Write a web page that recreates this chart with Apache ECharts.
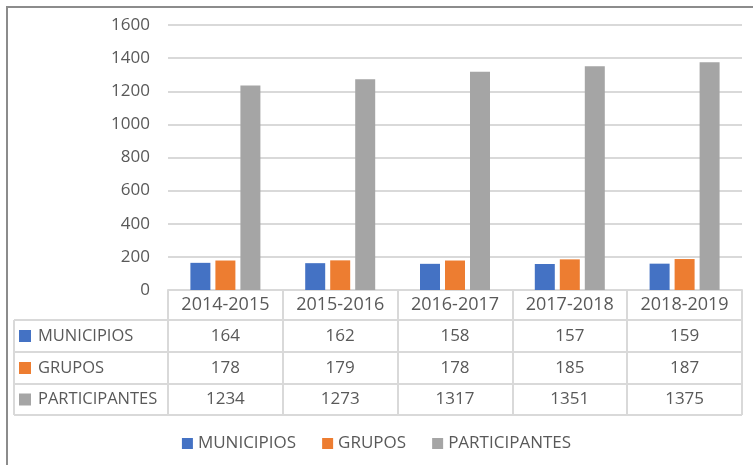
<!DOCTYPE html>
<html><head><meta charset="utf-8">
<script src="https://cdn.jsdelivr.net/npm/echarts@6/dist/echarts.min.js"></script>
<style>html,body{margin:0;padding:0;background:#fff}#c{width:753px;height:465px}</style>
</head><body><div id="c"></div>
<script>
const categories = ['2014-2015','2015-2016','2016-2017','2017-2018','2018-2019'];
const municipios = [164,162,158,157,159];
const grupos = [178,179,178,185,187];
const participantes = [1234,1273,1317,1351,1375];
const seriesNames = ['MUNICIPIOS','GRUPOS','PARTICIPANTES'];
const colors = ['#4472c4','#ed7d31','#a5a5a5'];
const yTicks = [0,200,400,600,800,1000,1200,1400,1600];

const FONT = '"Open Sans", sans-serif';
const TXT = '#595959';
const LINE = '#d9d9d9';
const gridL = 168, gridR = 11, gridT = 25, gridB = 175; // plot 168..742, 25..290
const tableLeft = 14, rowLines = [320, 352, 384, 415];
const rowCenters = [336, 368, 399.5];
const seriesData = [municipios, grupos, participantes];

const chart = echarts.init(document.getElementById('c'));
const graphics = [
  {type:'rect', shape:{x:7,y:7,width:800,height:500}, style:{fill:'none', stroke:'#8c8c8c', lineWidth:2}, z:1}
];
rowLines.forEach(y => graphics.push({type:'line', shape:{x1:tableLeft,y1:y,x2:753-gridR,y2:y}, style:{stroke:LINE,lineWidth:2}, z:5}));
graphics.push({type:'line', shape:{x1:tableLeft,y1:rowLines[0],x2:tableLeft,y2:rowLines[3]}, style:{stroke:LINE,lineWidth:2}, z:5});
seriesNames.forEach((n,i) => {
  graphics.push({type:'rect', shape:{x:19,y:rowCenters[i]-6,width:12,height:12}, style:{fill:colors[i]}, z:6});
  graphics.push({type:'text', x:38, y:rowCenters[i], style:{text:n, font:'16.5px '+FONT, fill:TXT, textVerticalAlign:'middle', textAlign:'left'}, z:6});
});

chart.setOption({
  animation:false,
  backgroundColor:'#ffffff',
  color: colors,
  grid:{left:gridL, right:gridR, top:gridT, bottom:gridB},
  legend:{
    data: seriesNames, bottom: 8, left:'center', icon:'rect', itemWidth:11, itemHeight:11, itemGap:26,
    textStyle:{fontFamily:FONT, fontSize:17, color:TXT}
  },
  xAxis:{
    type:'category', data: categories,
    axisLine:{lineStyle:{color:LINE, width:2}},
    axisTick:{show:true, length:125, lineStyle:{color:LINE, width:2}},
    axisLabel:{
      margin:0, interval:0,
      formatter:(v, idx) => '{h|' + v + '}\n{a|' + municipios[idx] + '}\n{a|' + grupos[idx] + '}\n{c|' + participantes[idx] + '}',
      rich:{
        h:{fontFamily:FONT, fontSize:18, color:TXT, lineHeight:30, height:30},
        a:{fontFamily:FONT, fontSize:17, color:TXT, lineHeight:32, height:32},
        c:{fontFamily:FONT, fontSize:17, color:TXT, lineHeight:31, height:31}
      }
    }
  },
  yAxis:{
    type:'value', min:0, max:1600, interval:200,
    axisLine:{show:false}, axisTick:{show:false},
    axisLabel:{margin:18, fontFamily:FONT, fontSize:17, color:TXT, formatter: v => yTicks.includes(v) ? String(v) : ''},
    splitLine:{lineStyle:{color:LINE, width:2}}
  },
  series: seriesNames.map((n,i) => ({
    name:n, type:'bar', data: seriesData[i], barWidth:20, barGap:'25%', z:2
  })),
  graphic: graphics
});
</script></body></html>
